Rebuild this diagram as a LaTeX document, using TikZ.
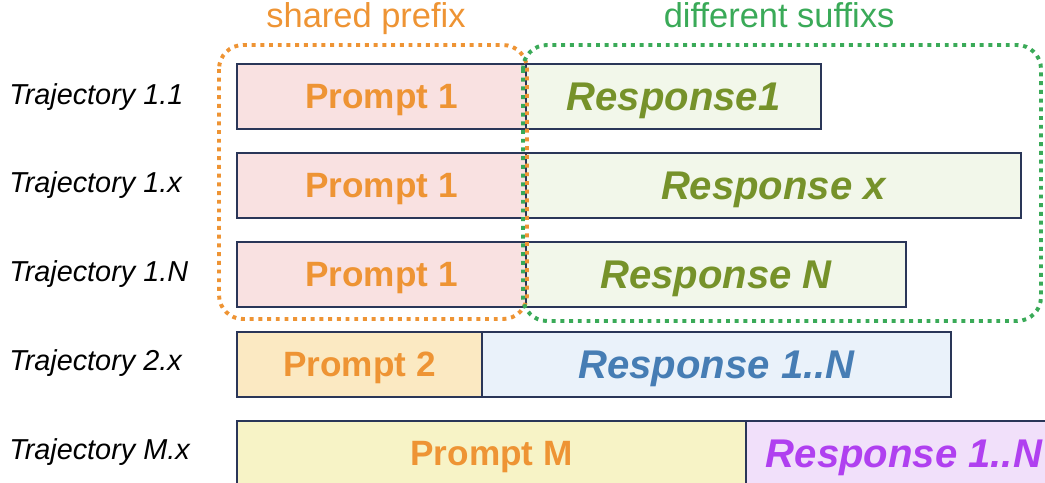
\documentclass[tikz,border=0pt]{standalone}
\usepackage{fontspec}
\setmainfont{Liberation Sans}
\usepackage{xcolor}
\usetikzlibrary{positioning}

\definecolor{edge}{RGB}{42,54,88}
\definecolor{porange}{RGB}{238,148,52}
\definecolor{sgreen}{RGB}{58,170,88}
\definecolor{olive}{RGB}{118,146,42}
\definecolor{rblue}{RGB}{70,125,180}
\definecolor{rpurple}{RGB}{176,64,240}
\definecolor{pinkfill}{RGB}{249,225,225}
\definecolor{greenfill}{RGB}{242,247,234}
\definecolor{peachfill}{RGB}{251,233,194}
\definecolor{bluefill}{RGB}{234,242,250}
\definecolor{yellowfill}{RGB}{247,243,198}
\definecolor{purplefill}{RGB}{241,224,250}

\tikzset{
  seg/.style={rectangle, draw=edge, line width=1.3pt, anchor=north west, minimum height=1.625cm, inner sep=0pt, text depth=0pt, text=porange, font=\fontsize{25}{30}\selectfont\bfseries},
  resp/.style={seg, font=\fontsize{28.5}{34}\selectfont\bfseries\itshape},
  traj/.style={anchor=west, inner sep=0pt, text depth=0pt, font=\fontsize{20.5}{24}\selectfont\itshape},
  group/.style={rounded corners=0.6cm, line width=2.8pt, dash pattern=on 2.8pt off 3.4pt}
}

\begin{document}
\begin{tikzpicture}[x=0.025cm, y=-0.025cm]
  \clip (0,0) rectangle (1045,482);

  % trajectory labels
  \node[traj] (t11) at (9,94.5) {Trajectory 1.1};
  \node[traj] (t1x) at (9,182) {Trajectory 1.x};
  \node[traj] (t1n) at (9,271) {Trajectory 1.N};
  \node[traj] (t2x) at (9,360) {Trajectory 2.x};
  \node[traj] (tmx) at (9,449) {Trajectory M.x};

  % prompts and responses
  \node[seg, fill=pinkfill, minimum width=7.225cm] (p11) at (236,63) {Prompt 1};
  \node[resp, fill=greenfill, text=olive, minimum width=7.375cm] (r11) at (525,63) {Response1};
  \node[seg, fill=pinkfill, minimum width=7.225cm] (p1x) at (236,152) {Prompt 1};
  \node[resp, fill=greenfill, text=olive, minimum width=12.375cm] (r1x) at (525,152) {Response x};
  \node[seg, fill=pinkfill, minimum width=7.225cm] (p1n) at (236,241) {Prompt 1};
  \node[resp, fill=greenfill, text=olive, minimum width=9.5cm] (r1n) at (525,241) {Response N};
  \node[seg, fill=peachfill, minimum width=6.125cm] (p2x) at (236,331) {Prompt 2};
  \node[resp, fill=bluefill, text=rblue, minimum width=11.725cm] (r2x) at (481,331) {Response 1..N};
  \node[seg, fill=yellowfill, minimum width=12.725cm] (pmx) at (236,420) {Prompt M};
  \node[resp, fill=purplefill, text=rpurple, minimum width=7.9cm] (rmx) at (745,420) {Response 1..N};

  % groups
  \draw[group, porange] (219,45) rectangle (527,319);
  \draw[group, sgreen] (523,45) rectangle (1041,321);
  \node[text=porange, anchor=base, font=\fontsize{24.5}{30}\selectfont] (shared) at (366,27) {shared prefix};
  \node[text=sgreen, anchor=base, font=\fontsize{24.5}{30}\selectfont] (diff) at (779,27) {different suffixs};
\end{tikzpicture}
\end{document}
